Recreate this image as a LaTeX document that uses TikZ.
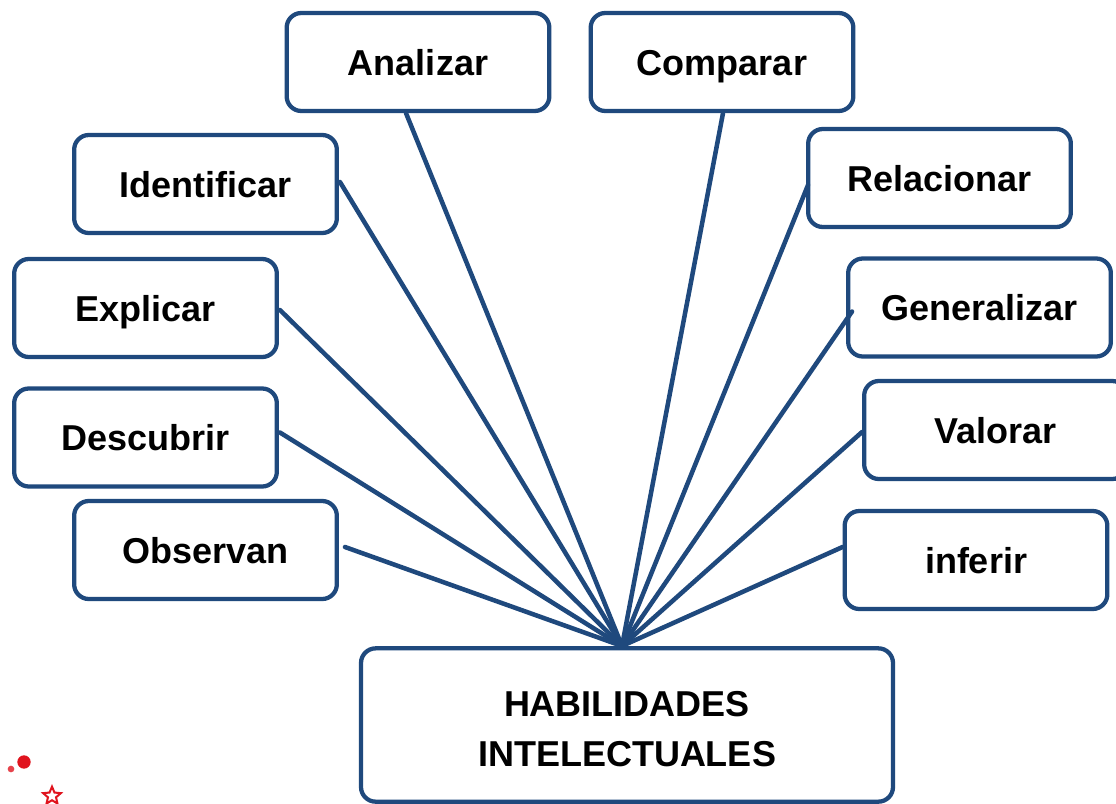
\documentclass[tikz,border=0pt]{standalone}
\usepackage{fontspec}
\setmainfont{Liberation Sans}
\usetikzlibrary{calc,shapes.geometric}
\definecolor{edgeblue}{HTML}{1F497D}
\definecolor{decored}{HTML}{E0141E}
\begin{document}
\begin{tikzpicture}[x=0.75pt,y=-0.75pt,
  box/.style={draw=edgeblue,line width=3.2pt,rounded corners=11pt,fill=white,
    minimum width=197pt,minimum height=73.5pt,inner sep=0pt,
    text height=19.5pt,text depth=0pt,
    font=\fontsize{27}{32}\selectfont\bfseries,text=black},
  bigbox/.style={draw=edgeblue,line width=3.2pt,rounded corners=11pt,fill=white,
    minimum width=399pt,minimum height=115pt,inner sep=0pt,align=center,
    font=\fontsize{27}{37}\selectfont\bfseries,text=black},
  link/.style={draw=edgeblue,line width=3.4pt,line cap=round}]
\useasboundingbox (0,0) rectangle (1116,803);
\clip (0,0) rectangle (1116,803);
\fill[white] (0,0) rectangle (1116,803);
% hub where all connectors meet
\coordinate (hub) at (622,646);
\node[box] (ana) at (418,62) {Analizar};
\node[box] (com) at (722,62) {Comparar};
\node[box] (ide) at (205.5,184) {Identificar};
\node[box] (rel) at (939.5,178) {Relacionar};
\node[box] (exp) at (145.5,308) {Explicar};
\node[box] (gen) at (979.5,307.5) {Generalizar};
\node[box] (des) at (145.5,437.5) {Descubrir};
\node[box] (val) at (995.5,430) {Valorar};
\node[box] (obs) at (205.5,550) {Observan};
\node[box] (inf) at (976,560) {inferir};
\node[bigbox] (hab) at (627,725) {};
\node[font=\fontsize{27}{37}\selectfont\bfseries,align=center,inner sep=0pt]
  (habtxt) at (627,729) {HABILIDADES\\INTELECTUALES};
% connectors
\draw[link] ($(ana.south)+(-12,0)$) -- (hub);
\draw[link] ($(com.south)+(1,0)$) -- (hub);
\draw[link] ($(ide.east)+(1,-2)$) -- (hub);
\draw[link] ($(rel.west)+(2,7)$) -- (hub);
\draw[link] ($(exp.east)+(1,2)$) -- (hub);
\draw[link] ($(gen.west)+(6,4)$) -- (hub);
\draw[link] ($(des.east)+(1,-5)$) -- (hub);
\draw[link] ($(val.west)+(0,2)$) -- (hub);
\draw[link] ($(obs.east)+(6,-3)$) -- (hub);
\draw[link] ($(inf.west)+(0,-13)$) -- (hub);
% decoration bottom left
\fill[decored] (24,762) circle (5pt);
\fill[decored!80] (11,769) circle (2.5pt);
\node[draw=decored,line width=1.5pt,star,star points=5,star point ratio=2.2,
  minimum size=14pt,inner sep=0pt] (starA) at (52,796) {};
\end{tikzpicture}
\end{document}
